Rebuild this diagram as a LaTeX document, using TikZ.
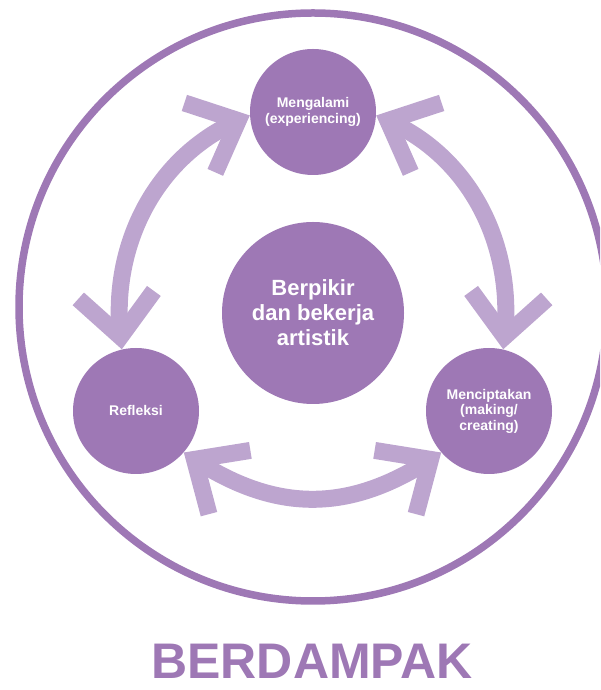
\documentclass[tikz,border=0pt]{standalone}
\usepackage{fontspec}
\setmainfont{Liberation Sans}
\usepackage{tikz}

\definecolor{purpledark}{HTML}{9E78B5}
\definecolor{purplelight}{HTML}{BDA5CF}

% open V head: tip sits at #1, pointing along angle #2
\newcommand{\vhead}[2]{%
  \draw[headstroke, shift={(#1)}, rotate=#2] (-55,38) -- (-13,0) -- (-55,-38);}

\begin{document}
\begin{tikzpicture}[x=1pt, y=1pt,
    stage/.style={circle, fill=purpledark, minimum size=126pt, inner sep=0pt, outer sep=0pt,
      text=white, align=center, font=\bfseries\fontsize{14}{15.5}\selectfont},
    cyclearc/.style={draw=purplelight, line width=17pt, shorten <=13pt, shorten >=13pt},
    headstroke/.style={draw=purplelight, line width=17pt, line join=miter, line cap=butt}]

	\useasboundingbox (0,0) rectangle (600,690);
	\clip (0,0) rectangle (600,690);

	% Outer ring
	\draw[purpledark, line width=7.5pt] (313,383) circle (294);

	% Centre and the three stages
	\node[stage, minimum size=182pt, font=\bfseries\fontsize{22}{25}\selectfont] (pusat) at (313,377) {Berpikir\\dan bekerja\\artistik};
	\node[stage] (mengalami) at (313,578) {Mengalami\\(experiencing)};
	\node[stage] (refleksi) at (136,279) {Refleksi};
	\node[stage] (mencipta) at (489,279) {Menciptakan\\(making/\\creating)};

	% Cycle arrows
	\draw[cyclearc] (refleksi.103) to[out=96, in=204] (mengalami.183);
	\draw[cyclearc] (mencipta.77) to[out=84, in=336] (mengalami.357);
	\draw[cyclearc] (refleksi.319) to[out=-33, in=213, looseness=1.1] (mencipta.221);

	% Arrow heads at both ends
	\vhead{mengalami.183}{24}
	\vhead{refleksi.103}{276}
	\vhead{mengalami.357}{156}
	\vhead{mencipta.77}{264}
	\vhead{refleksi.319}{147}
	\vhead{mencipta.221}{33}

	% Title
	\node[text=purpledark, font=\bfseries\fontsize{50}{60}\selectfont, inner sep=0pt, anchor=base] (judul) at (312,11) {BERDAMPAK};

\end{tikzpicture}
\end{document}
